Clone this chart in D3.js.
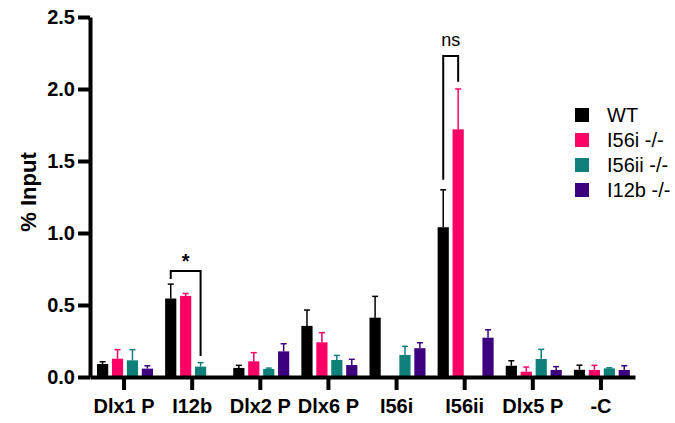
<!DOCTYPE html>
<html lang="en">
<head>
	<meta charset="utf-8">
	<title>% Input grouped bars</title>
	<script src="https://cdn.jsdelivr.net/npm/d3@7"></script>
	<style>
		body { margin: 0; background: #fff; }
		svg { display: block; font-family: "Liberation Sans", Arial, sans-serif; }
	</style>
</head>
<body>
<script>

	var categories = ["Dlx1 P", "I12b", "Dlx2 P", "Dlx6 P", "I56i", "I56ii", "Dlx5 P", "-C"];
	var seriesNames = ["WT", "I56i -/-", "I56ii -/-", "I12b -/-"];
	var colors = ["#000000", "#ff0066", "#0f7f7a", "#3d007f"];

	// means, null = not measured
	var wt = [0.09, 0.545, 0.063, 0.355, 0.412, 1.04, 0.078, 0.05];
	var i56i = [0.127, 0.563, 0.109, 0.241, null, 1.72, 0.037, 0.049];
	var i56ii = [0.116, 0.072, 0.056, 0.118, 0.153, null, 0.125, 0.06];
	var i12b = [0.058, null, 0.178, 0.083, 0.2, 0.273, 0.049, 0.049];

	// upper error (SEM)
	var wtErr = [0.016, 0.10, 0.018, 0.11, 0.148, 0.26, 0.035, 0.032];
	var i56iErr = [0.063, 0.017, 0.06, 0.067, null, 0.28, 0.032, 0.032];
	var i56iiErr = [0.074, 0.028, 0.006, 0.032, 0.06, null, 0.067, 0.004];
	var i12bErr = [0.02, null, 0.053, 0.04, 0.038, 0.055, 0.023, 0.029];

	var yTicks = [0, 0.5, 1.0, 1.5, 2.0, 2.5];

	// significance brackets: category, two series, bracket top and leg ends (data units)
	var brackets = [
		{ cat: "I12b", a: 0, b: 2, top: 0.736, endA: 0.68, endB: 0.146, label: "*" },
		{ cat: "I56ii", a: 0, b: 1, top: 2.23, endA: 1.37, endB: 2.05, label: "ns" }
	];

	var means = [wt, i56i, i56ii, i12b];
	var errs = [wtErr, i56iErr, i56iiErr, i12bErr];

	var w = 675, h = 423;

	var svg = d3.select("body").append("svg")
		.attr("width", w)
		.attr("height", h);

	var x0 = d3.scaleBand().domain(categories).range([90, 635]);
	var x1 = d3.scaleBand().domain(d3.range(seriesNames.length))
		.range([7, 63]).paddingInner(0.25);
	var y = d3.scaleLinear().domain([0, 2.5]).range([377, 17]);

	// flatten to bar records
	var bars = [];
	categories.forEach(function(c, ci) {
		means.forEach(function(s, si) {
			if (s[ci] != null) bars.push({ cat: c, s: si, v: s[ci], e: errs[si][ci] });
		});
	});

	function barX(d) { return x0(d.cat) + x1(d.s); }
	function barMid(cat, s) { return x0(cat) + x1(s) + x1.bandwidth() / 2; }

	// error bars (upper only)
	var eb = svg.append("g").selectAll("g")
		.data(bars)
		.enter()
		.append("g")
		.attr("stroke", function(d) { return colors[d.s]; })
		.attr("stroke-width", 1.5);
	eb.append("line")
		.attr("x1", function(d) { return barMid(d.cat, d.s); })
		.attr("x2", function(d) { return barMid(d.cat, d.s); })
		.attr("y1", function(d) { return y(d.v); })
		.attr("y2", function(d) { return y(d.v + d.e); });
	eb.append("line")
		.attr("x1", function(d) { return barMid(d.cat, d.s) - 3; })
		.attr("x2", function(d) { return barMid(d.cat, d.s) + 3; })
		.attr("y1", function(d) { return y(d.v + d.e); })
		.attr("y2", function(d) { return y(d.v + d.e); });

	svg.append("g").selectAll("rect")
		.data(bars)
		.enter()
		.append("rect")
		.attr("x", barX)
		.attr("y", function(d) { return y(d.v); })
		.attr("width", x1.bandwidth())
		.attr("height", function(d) { return y(0) - y(d.v); })
		.attr("fill", function(d) { return colors[d.s]; });

	// axes
	var yAxis = svg.append("g")
		.attr("transform", "translate(90,0)")
		.call(d3.axisLeft(y).tickValues(yTicks).tickSize(12).tickSizeOuter(0)
			.tickPadding(3).tickFormat(d3.format(".1f")));
	var xAxis = svg.append("g")
		.attr("transform", "translate(0," + y(0) + ")")
		.call(d3.axisBottom(x0).tickSize(13).tickSizeOuter(0).tickPadding(9));

	[yAxis, xAxis].forEach(function(g) {
		g.select(".domain").attr("stroke", "#000").attr("stroke-width", 4);
		g.selectAll(".tick line").attr("stroke", "#000").attr("stroke-width", 4);
		g.selectAll(".tick text")
			.attr("fill", "#000")
			.attr("font-size", "20px")
			.attr("font-weight", "bold")
			.attr("font-family", "Liberation Sans, Arial, sans-serif");
	});

	svg.append("text")
		.attr("transform", "translate(36,192) rotate(-90)")
		.attr("text-anchor", "middle")
		.attr("font-size", "22px")
		.attr("font-weight", "bold")
		.text("% Input");

	// brackets
	brackets.forEach(function(b) {
		var xa = barMid(b.cat, b.a), xb = barMid(b.cat, b.b);
		svg.append("path")
			.attr("d", "M" + xa + "," + y(b.endA) + "V" + y(b.top) + "H" + xb + "V" + y(b.endB))
			.attr("fill", "none")
			.attr("stroke", "#000")
			.attr("stroke-width", 2);
		svg.append("text")
			.attr("x", (xa + xb) / 2)
			.attr("y", b.label == "*" ? y(b.top) - 3 : y(b.top) - 10)
			.attr("text-anchor", "middle")
			.attr("font-size", b.label == "*" ? "20px" : "18px")
			.attr("font-weight", b.label == "*" ? "bold" : "normal")
			.text(b.label);
	});

	// legend
	var legend = svg.append("g").selectAll("g")
		.data(seriesNames)
		.enter()
		.append("g")
		.attr("transform", function(d, i) { return "translate(575," + (108 + i * 25) + ")"; });
	legend.append("rect")
		.attr("width", 14)
		.attr("height", 14)
		.attr("fill", function(d, i) { return colors[i]; });
	legend.append("text")
		.attr("x", 32)
		.attr("y", 14)
		.attr("font-size", "20px")
		.text(function(d) { return d; });

</script>
</body>
</html>
